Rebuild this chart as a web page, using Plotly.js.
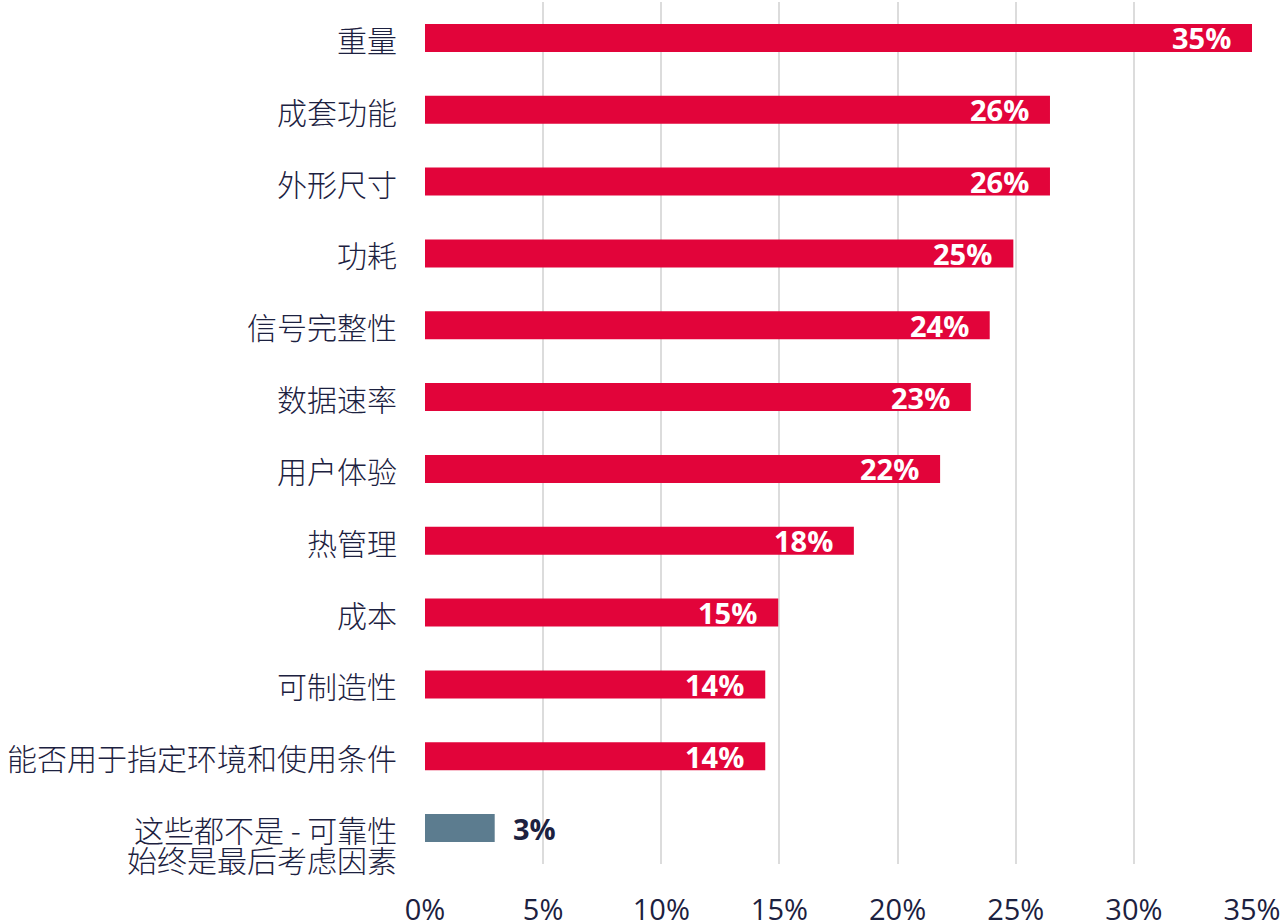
<!DOCTYPE html>
<html>
<head>
<meta charset="utf-8">
<script src="https://cdn.plot.ly/plotly-3.0.1.min.js"></script>
<style>html,body{margin:0;padding:0;background:#fff;}#chart{width:1280px;height:922px;}</style>
</head>
<body>
<div id="chart"></div>
<script>
const categories = ["重量","成套功能","外形尺寸","功耗","信号完整性","数据速率","用户体验","热管理","成本","可制造性","能否用于指定环境和使用条件","这些都不是 - 可靠性<br>始终是最后考虑因素"];
const values = [35.0, 26.45, 26.45, 24.9, 23.9, 23.1, 21.8, 18.15, 14.95, 14.4, 14.4, 2.95];
const labels = ["35%","26%","26%","25%","24%","23%","22%","18%","15%","14%","14%","3%"];
const colors = ["#e2043a","#e2043a","#e2043a","#e2043a","#e2043a","#e2043a","#e2043a","#e2043a","#e2043a","#e2043a","#e2043a","#5c7c8f"];
const tickVals = [0,5,10,15,20,25,30,35];
const tickText = ["0%","5%","10%","15%","20%","25%","30%","35%"];

const fontFam = "'Open Sans', 'Noto Sans CJK SC', sans-serif";
const cjkFam = "'Noto Sans CJK SC', sans-serif";
const navy = "#1c2140";

const annotations = values.map((v,i) => {
  const inside = v > 5;
  return {
    x: v, y: categories[i], xref: 'x', yref: 'y',
    text: '<b>' + labels[i] + '</b>',
    showarrow: false,
    xanchor: inside ? 'right' : 'left',
    xshift: inside ? -19 : 16,
    font: {family: fontFam, size: 29, color: inside ? '#ffffff' : navy}
  };
});

// category labels (each line placed separately for tight line spacing)
categories.forEach((c) => {
  c.split('<br>').forEach((line, j) => {
    annotations.push({
      x: 0, y: c, xref: 'paper', yref: 'y',
      text: line, showarrow: false,
      xanchor: 'right', yanchor: 'middle',
      xshift: -26, yshift: -1 - 30 * j,
      font: {family: cjkFam, size: 30, color: navy, weight: 300}
    });
  });
});

Plotly.newPlot('chart', [{
  type: 'bar', orientation: 'h',
  x: values, y: categories,
  marker: {color: colors},
  width: 0.39,
  hoverinfo: 'none'
}], {
  width: 1280, height: 922,
  margin: {l: 425, r: 28, t: 2, b: 58},
  paper_bgcolor: '#fff', plot_bgcolor: '#fff',
  font: {family: fontFam, color: navy},
  xaxis: {
    range: [0, 35], tickvals: tickVals, ticktext: tickText,
    showgrid: true, gridcolor: '#dcdcdc', gridwidth: 2,
    zeroline: false, showline: false, ticks: '',
    tickfont: {family: fontFam, size: 29, color: navy},
    ticklabelstandoff: 26, ticklabeloverflow: 'allow'
  },
  yaxis: {
    autorange: 'reversed', showgrid: false, zeroline: false, showline: false, ticks: '',
    showticklabels: false
  },
  annotations: annotations,
  showlegend: false
}, {displayModeBar: false, staticPlot: true});
</script>
</body>
</html>
